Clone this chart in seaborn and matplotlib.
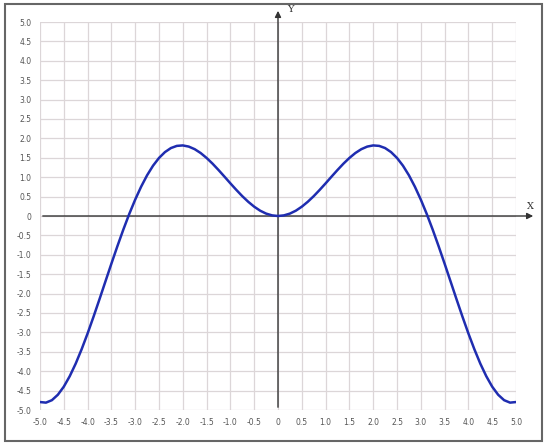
import numpy as np
import pandas as pd
import seaborn as sns
import matplotlib.pyplot as plt
from matplotlib.patches import Rectangle

# --- dane ---
x_pos = [0.0, 0.125, 0.25, 0.375, 0.5, 0.625, 0.75, 0.875, 1.0, 1.125, 1.25, 1.375,
         1.5, 1.625, 1.75, 1.875, 2.0, 2.125, 2.25, 2.375, 2.5, 2.625, 2.75, 2.875,
         3.0, 3.125, 3.25, 3.375, 3.5, 3.625, 3.75, 3.875, 4.0, 4.125, 4.25, 4.375,
         4.5, 4.625, 4.75, 4.875, 5.0]
y_pos = [0.0, 0.016, 0.062, 0.137, 0.240, 0.366, 0.511, 0.672, 0.841, 1.015, 1.186, 1.349,
         1.496, 1.623, 1.722, 1.789, 1.819, 1.807, 1.751, 1.647, 1.496, 1.297, 1.050, 0.757,
         0.423, 0.052, -0.352, -0.781, -1.228, -1.685, -2.144, -2.594, -3.027, -3.433, -3.804, -4.128,
         -4.399, -4.607, -4.747, -4.810, -4.795]
# krzywa jest symetryczna - lewa połowa to odbicie prawej
x_vals = [-v for v in x_pos[:0:-1]] + x_pos
y_vals = y_pos[:0:-1] + y_pos

ticks = [-5.0, -4.5, -4.0, -3.5, -3.0, -2.5, -2.0, -1.5, -1.0, -0.5, 0.0,
         0.5, 1.0, 1.5, 2.0, 2.5, 3.0, 3.5, 4.0, 4.5, 5.0]
tick_labels = ["0" if t == 0 else f"{t:.1f}" for t in ticks]

df = pd.DataFrame({"x": x_vals, "y": y_vals})

sns.set_style("white")
fig = plt.figure(figsize=(5.47, 4.45), dpi=100)
ax = fig.add_axes([40 / 547, 35 / 445, 476 / 547, 388 / 445])

sns.lineplot(data=df, x="x", y="y", color="#1f2db0", linewidth=1.8, ax=ax, sort=False, zorder=5)

ax.set_xlim(-5, 5)
ax.set_ylim(-5, 5)
ax.set_xticks(ticks)
ax.set_yticks(ticks)
ax.set_xticklabels(tick_labels)
ax.set_yticklabels(tick_labels)
ax.tick_params(axis="both", length=0, labelsize=5.5, colors="#555555", pad=6)
ax.set_xlabel("")
ax.set_ylabel("")
ax.grid(True, color="#dcd6d8", linewidth=0.9)
for s in ax.spines.values():
    s.set_visible(False)

# osie ze strzałkami
ax.annotate("", xy=(5.42, 0), xytext=(-5, 0), annotation_clip=False,
            arrowprops=dict(arrowstyle="-|>", color="#333333", lw=1.0, mutation_scale=9))
ax.annotate("", xy=(0, 5.36), xytext=(0, -5), annotation_clip=False,
            arrowprops=dict(arrowstyle="-|>", color="#333333", lw=1.0, mutation_scale=9))
ax.text(5.3, 0.25, "X", fontsize=7, family="DejaVu Serif", color="#333333", ha="center", va="center")
ax.text(0.25, 5.33, "Y", fontsize=7, family="DejaVu Serif", color="#333333", ha="center", va="center")

# ramka
fig.patches.append(Rectangle((5 / 547, 4 / 445), 537 / 547, 437 / 445, transform=fig.transFigure,
                             fill=False, edgecolor="#666666", linewidth=1.5))

plt.savefig("out.png", dpi=100)
